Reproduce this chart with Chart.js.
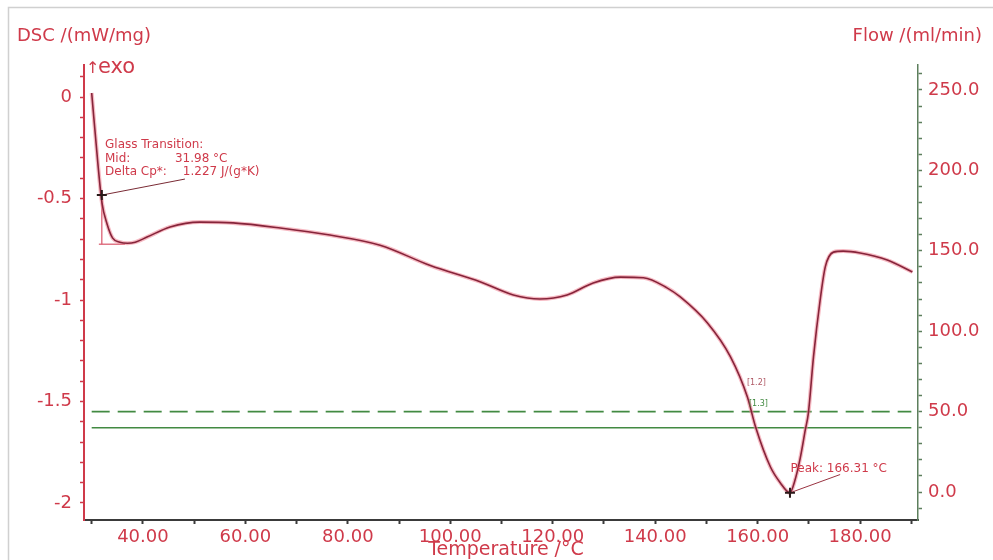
<!DOCTYPE html>
<html>
<head>
<meta charset="utf-8">
<script src="https://cdn.jsdelivr.net/npm/chart.js@4.4.0/dist/chart.umd.min.js"></script>
<style>
  html, body { margin: 0; padding: 0; background: #fff; }
  #wrap { width: 993px; height: 560px; }
</style>
</head>
<body>
<div id="wrap"><canvas id="dsc" width="993" height="560"></canvas></div>
<script>
// ---- data ----
// temperature /°C
const temps = [30.0, 31.2, 32.0, 33.0, 34.1, 35.5, 37.0, 38.5, 40.8, 45.3, 51.1, 57.6, 66.8, 76.5,
  86.3, 96.1, 105.8, 112.3, 117.5, 122.8, 127.9, 133.2, 137.7, 142.3, 144.9, 150.2, 154.7,
  158.0, 159.6, 162.5, 164.4, 166.3, 167.2, 168.3, 169.3, 169.9, 170.9, 172.2, 173.2, 174.8,
  176.7, 180.0, 185.3, 190.2];
// DSC /(mW/mg)
const dscValues = [0.02, -0.325, -0.52, -0.625, -0.695, -0.715, -0.72, -0.715, -0.69, -0.64, -0.616,
  -0.62, -0.645, -0.68, -0.73, -0.83, -0.91, -0.975, -0.995, -0.975, -0.916, -0.887, -0.89,
  -0.94, -0.985, -1.113, -1.28, -1.478, -1.626, -1.823, -1.90, -1.95, -1.895, -1.78, -1.64,
  -1.557, -1.28, -1.0, -0.837, -0.764, -0.759, -0.768, -0.803, -0.862];

// purge gas flow /(ml/min), drawn across the run
const flowTemps = [30, 190];
const flowDashed = [50, 50];
const flowSolid = [40, 40];

// evaluation results
const tgTemp = 31.98, tgDsc = -0.483;
const peakTemp = 166.31, peakDsc = -1.95;

// axis ranges
const tempMin = 28.5, tempMax = 191.3;
const dscMin = -2.084, dscMax = 0.158;
const flowMin = -17.4, flowMax = 265.5;

const red = '#cf3a4a';
const green = '#428a42';
const font = '"DejaVu Sans", sans-serif';

const pts = (xs, ys) => xs.map((x, i) => ({ x, y: ys[i] }));
const isMult = (v, s) => Math.abs(v / s - Math.round(v / s)) < 1e-6;

// texts written by the evaluation, anchored in data units
const notes = [
  { t: 32.6, v: -0.251, text: 'Glass Transition:' },
  { t: 32.6, v: -0.320, text: 'Mid:' },
  { t: 46.25, v: -0.320, text: '31.98 °C' },
  { t: 32.6, v: -0.384, text: 'Delta Cp*:' },
  { t: 47.8, v: -0.384, text: '1.227 J/(g*K)' },
  { t: 166.4, v: -1.847, text: 'Peak: 166.31 °C' }
];

const decor = {
  id: 'decor',
  beforeDraw(chart) {
    const c = chart.ctx;
    c.save();
    c.fillStyle = '#fff';
    c.fillRect(0, 0, chart.width, chart.height);
    c.strokeStyle = '#d0d0d0';
    c.lineWidth = 1.5;
    c.strokeRect(8.5, 7.5, 1000, 600);
    c.restore();
  },
  afterDraw(chart) {
    const c = chart.ctx, xs = chart.scales.x, ys = chart.scales.y;
    c.save();
    c.fillStyle = red;
    c.textBaseline = 'alphabetic';
    c.font = '18px ' + font;
    c.textAlign = 'left';
    c.fillText('DSC /(mW/mg)', 17, 41);
    c.textAlign = 'right';
    c.fillText('Flow /(ml/min)', 982, 41);
    c.textAlign = 'center';
    c.font = '19px ' + font;
    c.fillText('Temperature /°C', 506, 555);
    c.textAlign = 'left';
    c.font = '16px ' + font;
    c.fillText('↑', 86, 73);
    c.font = '21px ' + font;
    c.fillText('exo', 98, 73);

    c.font = '12px ' + font;
    notes.forEach(n => c.fillText(n.text, xs.getPixelForValue(n.t), ys.getPixelForValue(n.v)));
    c.font = '8px ' + font;
    c.fillStyle = '#b05a66';
    c.fillText('[1.2]', xs.getPixelForValue(157.9), ys.getPixelForValue(-1.42));
    c.fillStyle = green;
    c.fillText('[1.3]', xs.getPixelForValue(158.3), ys.getPixelForValue(-1.52));
    c.restore();
  }
};

new Chart(document.getElementById('dsc'), {
  type: 'line',
  data: {
    datasets: [
      // evaluation markers (on top)
      { data: [{ x: tgTemp, y: tgDsc }, { x: peakTemp, y: peakDsc }], showLine: false,
        pointStyle: 'cross', pointRadius: 5, borderColor: '#2a1a1a', borderWidth: 2, yAxisID: 'y' },
      // DSC curve: dark core over a pink fringe
      { data: pts(temps, dscValues), borderColor: '#86243a', borderWidth: 1.6,
        pointRadius: 0, cubicInterpolationMode: 'monotone', yAxisID: 'y' },
      { data: pts(temps, dscValues), borderColor: 'rgba(240,140,155,0.6)', borderWidth: 4,
        pointRadius: 0, cubicInterpolationMode: 'monotone', yAxisID: 'y' },
      // glass transition construction
      { data: [{ x: tgTemp, y: tgDsc }, { x: 48.2, y: -0.404 }], borderColor: '#7a2b35',
        borderWidth: 1, pointRadius: 0, yAxisID: 'y' },
      { data: [{ x: tgTemp, y: -0.46 }, { x: tgTemp, y: -0.725 }], borderColor: '#d9566a',
        borderWidth: 1.2, pointRadius: 0, yAxisID: 'y' },
      { data: [{ x: 31.4, y: -0.725 }, { x: 36.5, y: -0.725 }], borderColor: '#d9566a',
        borderWidth: 1.2, pointRadius: 0, yAxisID: 'y' },
      // peak leader
      { data: [{ x: peakTemp, y: peakDsc }, { x: 176.1, y: -1.86 }], borderColor: '#9a3442',
        borderWidth: 1, pointRadius: 0, yAxisID: 'y' },
      // purge flow
      { data: pts(flowTemps, flowDashed), borderColor: green, borderWidth: 1.6,
        borderDash: [18, 8], pointRadius: 0, yAxisID: 'y2' },
      { data: pts(flowTemps, flowSolid), borderColor: green, borderWidth: 1.6,
        pointRadius: 0, yAxisID: 'y2' }
    ]
  },
  options: {
    responsive: false,
    animation: false,
    devicePixelRatio: 1,
    events: [],
    layout: { padding: { top: 65, left: 0, right: 0, bottom: 0 } },
    plugins: { legend: { display: false }, tooltip: { enabled: false } },
    scales: {
      x: {
        type: 'linear', position: 'bottom', min: tempMin, max: tempMax,
        border: { display: true, color: '#3a3a3a', width: 2 },
        grid: { drawOnChartArea: false, tickLength: 4, tickColor: '#3a3a3a', tickWidth: 2 },
        ticks: { stepSize: 10, includeBounds: false, autoSkip: false, maxRotation: 0, padding: 3,
          color: red, font: { family: font, size: 18 },
          callback: v => isMult(v, 20) ? v.toFixed(2) : '' },
        afterFit: s => { s.height = 40; }
      },
      y: {
        position: 'left', min: dscMin, max: dscMax,
        border: { display: true, color: red, width: 2 },
        grid: { drawOnChartArea: false, tickLength: 4, tickColor: red, tickWidth: 1.5 },
        ticks: { stepSize: 0.1, includeBounds: false, autoSkip: false, padding: 8,
          color: red, font: { family: font, size: 18 },
          callback: v => isMult(v, 0.5) ? String(Math.round(v * 10) / 10) : '' },
        afterFit: s => { s.width = 84; }
      },
      y2: {
        position: 'right', min: flowMin, max: flowMax,
        border: { display: true, color: '#5d7f5d', width: 1.5 },
        grid: { drawOnChartArea: false, tickLength: 4, tickColor: '#5d7f5d', tickWidth: 1.5 },
        ticks: { stepSize: 10, includeBounds: false, autoSkip: false, padding: 6,
          color: red, font: { family: font, size: 18 },
          callback: v => isMult(v, 50) ? v.toFixed(1) : '' },
        afterFit: s => { s.width = 75; }
      }
    }
  },
  plugins: [decor]
});
</script>
</body>
</html>
